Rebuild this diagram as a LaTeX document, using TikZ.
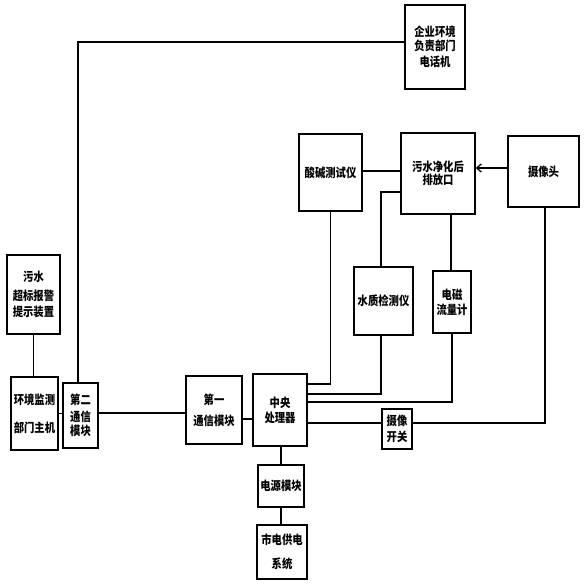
\documentclass[tikz,border=0pt]{standalone}
\usepackage{fontspec}
\newfontfamily\cjk[FakeStretch=0.84]{Noto Sans CJK SC}
\usetikzlibrary{arrows.meta}
\tikzset{
  bx/.style 2 args={draw, line width=1.2pt, minimum width=#1*0.03cm, minimum height=#2*0.03cm,
    inner sep=0pt, align=center, font=\cjk\bfseries\fontsize{10.5}{11}\selectfont},
  ln/.style={line width=1.1pt},
}
\begin{document}
\begin{tikzpicture}[x=0.03cm,y=-0.03cm]
\useasboundingbox (0,0) rectangle (584,584);
% boxes
\node[bx={53}{79}] (alarm) at (33.5,294.5) {污水\\[5pt]超标报警\\[3pt]提示装置};
\node[bx={47}{73}] (host) at (34.5,413.5) {环境监测\\[13pt]部门主机};
\node[bx={35}{65}] (com2) at (80.5,415.5) {第二\\[3pt]通信\\[1pt]模块};
\node[bx={60}{84}] (phone) at (435,47) {企业环境\\[1pt]负责部门\\[3pt]电话机};
\node[bx={56}{68}] (com1) at (214,410) {第一\\[7pt]通信模块};
\node[bx={54}{72}] (cpu) at (280,410) {中央\\[2pt]处理器};
\node[bx={46}{42}] (power) at (281,486) {电源模块};
\node[bx={50}{54}] (grid) at (282,552) {市电供电\\[9pt]系统};
\node[bx={30}{40}] (camsw) at (397,429) {摄像\\[3pt]开关};
\node[bx={63}{77}] (acid) at (330.5,172.5) {酸碱测试仪};
\node[bx={74}{81}] (outlet) at (438,173.5) {污水净化后\\[0pt]排放口};
\node[bx={71}{71}] (camera) at (543.5,171.5) {摄像头};
\node[bx={59}{68}] (water) at (383.5,301) {水质检测仪};
\node[bx={38}{62}] (flow) at (452,302) {电磁\\[2pt]流量计};
% connectors
\draw[ln] (alarm.south) -- (alarm.south |- host.north);
\draw[ln] (host.east) -- (host.east -| com2.west);
\draw[ln] (com2.east |- 0,413) -- (com1.west |- 0,413);
\draw[ln] (com1.east |- 0,419) -- (cpu.west |- 0,419);
\draw[ln] (com2.north -| 78,0) |- (phone.west |- 0,42);
\draw[ln] (power.north |- cpu.south) -- (power.north);
\draw[ln] (power.south) -- (power.south |- grid.north);
\draw[ln] (cpu.east |- 0,384) -| (acid.south);
\draw[ln] (cpu.east |- 0,394) -| (water.south -| 381,0);
\draw[ln] (cpu.east |- 0,402) -| (flow.south);
\draw[ln] (cpu.east |- 0,423) -- (camsw.west |- 0,423);
\draw[ln] (camsw.east |- 0,423) -| (camera.south -| 545,0);
\draw[ln] (acid.east |- 0,171) -- (outlet.west |- 0,171);
\draw[ln, -{Straight Barb[length=4pt,width=7pt]}] (camera.west |- 0,168) -- (outlet.east |- 0,168);
\draw[ln] (outlet.west |- 0,192) -| (water.north -| 381,0);
\draw[ln] (outlet.south -| 451,0) -- (flow.north -| 451,0);
\end{tikzpicture}
\end{document}
